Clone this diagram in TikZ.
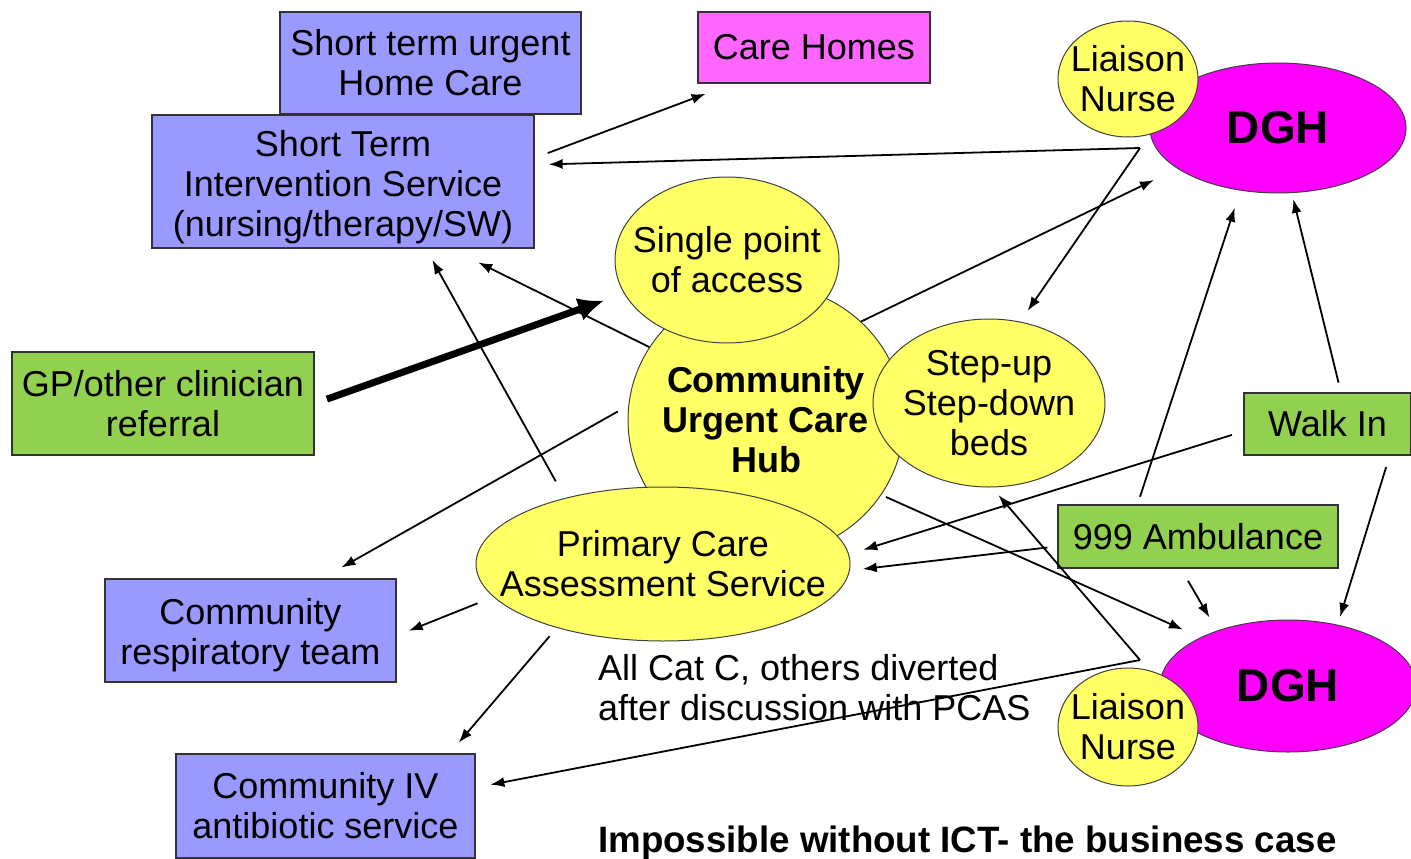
\documentclass[tikz,border=0pt]{standalone}
\usepackage{fontspec}
\setmainfont{Liberation Sans}
\usetikzlibrary{arrows.meta,shapes.geometric}
\definecolor{periw}{HTML}{9999FF}
\definecolor{yel}{HTML}{FFFF66}
\definecolor{grn}{HTML}{92D050}
\definecolor{pinkc}{HTML}{FF66FF}
\definecolor{mag}{HTML}{FF00FF}
\newcommand\fsn{\fontsize{36}{40}\selectfont}
\newcommand\fsd{\fontsize{46}{50}\selectfont\bfseries}
\tikzset{
  box/.style={draw=black!80, line width=1.3pt, inner sep=3pt, align=center, font=\fsn},
  bluebox/.style={box, fill=periw},
  greenbox/.style={box, fill=grn},
  pinkbox/.style={box, fill=pinkc},
  ell/.style={ellipse, draw=black!75, line width=1pt, inner sep=0pt},
  yell/.style={ell, fill=yel},
  dgh/.style={ell, fill=mag},
  lbl/.style={align=center, font=\fsn, inner sep=0pt},
  blbl/.style={align=center, font=\fsn\bfseries, inner sep=0pt},
  dlbl/.style={align=center, font=\fsd, inner sep=0pt},
  arr/.style={line width=1.8pt, -{Latex[length=14pt,width=10pt]}},
  thickarr/.style={line width=7pt, -{Latex[length=26pt,width=24pt]}}
}
\begin{document}
\begin{tikzpicture}[x=1pt,y=-1pt]
\useasboundingbox[fill=white] (0,0) rectangle (1411,859);

% boxes
\node[bluebox, minimum width=301pt, minimum height=102pt] (stuh) at (430.5,63) {Short term urgent\\Home Care};
\node[bluebox, minimum width=382pt, minimum height=133pt, text height=117pt] (stis) at (343,181.5) {Short Term\\Intervention Service\\(nursing/therapy/SW)};
\node[pinkbox, minimum width=232pt, minimum height=71pt] (care) at (814,47.5) {Care Homes};
\node[greenbox, minimum width=302pt, minimum height=103pt] (gp) at (163,403.5) {GP/other clinician\\referral};
\node[greenbox, minimum width=167pt, minimum height=62pt] (walk) at (1327.5,424) {Walk In};
\node[greenbox, minimum width=280pt, minimum height=63pt] (amb) at (1198,536.5) {999 Ambulance};
\node[bluebox, minimum width=291pt, minimum height=103pt, text height=76pt] (resp) at (250.5,630.5) {Community\\respiratory team};
\node[bluebox, minimum width=299pt, minimum height=104pt] (iv) at (325.5,806) {Community IV\\antibiotic service};

% ellipses
\node[dgh, minimum width=256pt, minimum height=130pt, label={[dlbl]center:DGH}] (dgh1) at (1278,128) {};
\node[yell, minimum width=140pt, minimum height=116pt, label={[lbl]center:{Liaison\\Nurse}}] (ln1) at (1128,79) {};
\node[yell, minimum width=276pt, minimum height=270pt, label={[blbl]center:{Community\\Urgent Care\\Hub}}] (hub) at (766,420) {};
\node[yell, minimum width=224pt, minimum height=166pt, label={[lbl]center:{Single point\\of access}}] (spa) at (727,260) {};
\node[yell, minimum width=232pt, minimum height=168pt, label={[lbl]center:{Step-up\\Step-down\\beds}}] (beds) at (989,403) {};
\node[yell, minimum width=374pt, minimum height=154pt, label={[lbl]center:{Primary Care\\Assessment Service}}] (pcas) at (663,564) {};
\node[dgh, minimum width=256pt, minimum height=132pt, label={[dlbl]center:DGH}] (dgh2) at (1288,686) {};
\node[yell, minimum width=140pt, minimum height=118pt, label={[lbl]center:{Liaison\\Nurse}}] (ln2) at (1128,727) {};

% texts
\node[anchor=west, align=left, font=\fsn, inner sep=0pt] (note) at (598,688) {All Cat C, others diverted\\after discussion with PCAS};
\node[anchor=west, font=\fontsize{36.7}{40}\selectfont\bfseries, inner sep=0pt] (bottom) at (598,843) {Impossible without ICT- the business case};

% corner points
\coordinate (c1) at (1140,148);
\coordinate (c2) at (1140,660);

% connectors
\draw[arr, shorten <=14pt, shorten >=29pt] (stis.7) -- (care.204);
\draw[arr, shorten >=14pt] (c1) -- (stis.5);
\draw[arr, shorten >=13pt] (c1) -- (beds.69);
\draw[arr, shorten >=26pt] (hub.46) -- (dgh1.202);
\draw[arr, shorten >=31pt] (hub.148) -- (stis.328);
\draw[thickarr, shorten <=13pt, shorten >=21pt] (gp.east) -- (spa.198);
\draw[arr, shorten <=19pt, shorten >=13pt] (pcas.146) -- (stis.321);
\draw[arr, shorten <=12pt, shorten >=22pt] (hub.174) -- (resp.36);
\draw[arr, shorten <=17pt, shorten >=13pt] (pcas.191) -- (resp.358);
\draw[arr, shorten <=11pt, shorten >=14pt] (pcas.211) -- (iv.23);
\draw[arr, shorten <=5pt, shorten >=19pt] (hub.327) -- (dgh2.151);
\draw[arr, shorten >=10pt] (c2) -- (beds.272);
\draw[arr, shorten >=15pt] (c2) -- (iv.7);
\draw[arr, shorten <=12pt, shorten >=15pt] (walk.185) -- (pcas.3);
\draw[arr, shorten <=10pt, shorten >=13pt] (amb.184) -- (pcas.358);
\draw[arr, shorten <=8pt, shorten >=18pt] (amb.152) -- (dgh1.239);
\draw[arr, shorten <=10pt, shorten >=6pt] (walk.67) -- (dgh1.282);
\draw[arr, shorten <=14pt, shorten >=15pt] (amb.242) -- (dgh2.142);
\draw[arr, shorten <=12pt, shorten >=8pt] (walk.333) -- (dgh2.51);
\end{tikzpicture}
\end{document}
